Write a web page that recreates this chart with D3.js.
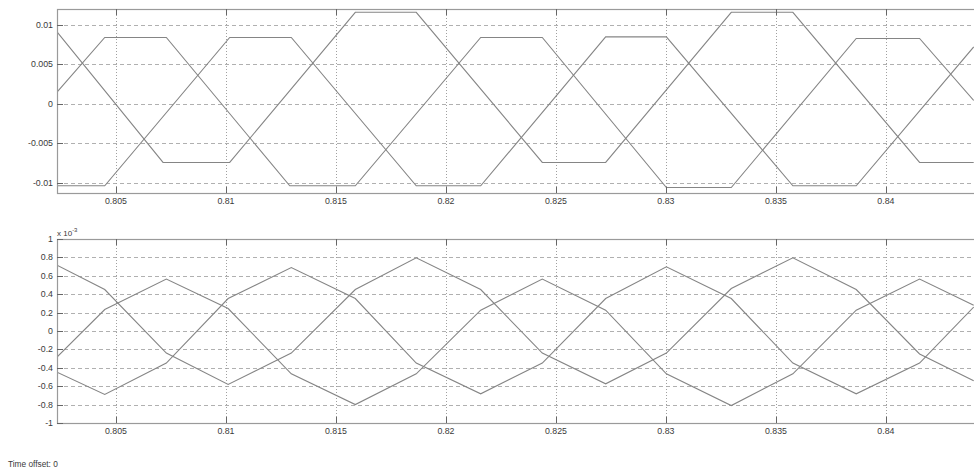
<!DOCTYPE html>
<html>
<head>
<meta charset="utf-8">
<script src="https://cdn.jsdelivr.net/npm/d3@7"></script>
<style>
  html, body { margin: 0; padding: 0; background: #fff; }
  svg { display: block; }
  text { font-family: "Liberation Sans", Arial, Helvetica, sans-serif; fill: #3a3a3a; }
</style>
</head>
<body>
<svg id="chart" width="974" height="472"></svg>
<script>
// ---------- DATA ----------
const xTicks = [0.805, 0.81, 0.815, 0.82, 0.825, 0.83, 0.835, 0.84];
const xTickLabels = ["0.805", "0.81", "0.815", "0.82", "0.825", "0.83", "0.835", "0.84"];

const topYTicks = [0.01, 0.005, 0, -0.005, -0.01];
const topYTickLabels = ["0.01", "0.005", "0", "-0.005", "-0.01"];

const botYTicks = [1, 0.8, 0.6, 0.4, 0.2, 0, -0.2, -0.4, -0.6, -0.8, -1];
const botYTickLabels = ["1", "0.8", "0.6", "0.4", "0.2", "0", "-0.2", "-0.4", "-0.6", "-0.8", "-1"];

// Upper plot: three trapezoidal waveforms (vertex times and values)
const topT1 = [0.80232, 0.80714, 0.81017, 0.81588, 0.81865, 0.82438, 0.82726, 0.83297, 0.83577, 0.84153, 0.84399];
const topV1 = [0.00911, -0.00743, -0.00743, 0.01158, 0.01158, -0.00743, -0.00743, 0.01158, 0.01158, -0.00743, -0.00743];
const topT2 = [0.80232, 0.80449, 0.80729, 0.81290, 0.81588, 0.82158, 0.82438, 0.83002, 0.83297, 0.83865, 0.84153, 0.84399];
const topV2 = [0.00148, 0.0084, 0.0084, -0.01039, -0.01039, 0.0084, 0.0084, -0.01061, -0.01061, 0.00827, 0.00827, 0.00042];
const topT3 = [0.80232, 0.80449, 0.81017, 0.81297, 0.81865, 0.82158, 0.82726, 0.83002, 0.83577, 0.83865, 0.84399];
const topV3 = [-0.01039, -0.01039, 0.0084, 0.0084, -0.01039, -0.01039, 0.00847, 0.00847, -0.01039, -0.01039, 0.0072];

// Lower plot: three piecewise-linear waveforms (units of 1e-3), shared vertex times
const botT = [0.80232, 0.80449, 0.80729, 0.81010, 0.81297, 0.81588, 0.81865, 0.82158, 0.82438, 0.82726, 0.83002, 0.83297, 0.83577, 0.83865, 0.84153, 0.84399];
const botA = [0.716, 0.451, -0.24, -0.581, -0.24, 0.451, 0.796, 0.451, -0.24, -0.574, -0.24, 0.462, 0.796, 0.451, -0.25, -0.54];
const botB = [-0.284, 0.233, 0.564, 0.244, -0.465, -0.80, -0.465, 0.226, 0.564, 0.226, -0.465, -0.81, -0.465, 0.226, 0.564, 0.28];
const botC = [-0.447, -0.69, -0.349, 0.353, 0.69, 0.353, -0.349, -0.683, -0.349, 0.353, 0.698, 0.353, -0.349, -0.683, -0.349, 0.26];

const timeOffsetText = "Time offset: 0";
const botExponent = "-3";

// ---------- DRAW ----------
const svg = d3.select("#chart");
const left = 57, right = 977;
const x = d3.scaleLinear().domain([0.80232, 0.84414]).range([left, right]);

const lineColor = "#858585";
const gridColor = "#b0b0b0";
const frameColor = "#9a9a9a";

function panel(opts) {
  const { top, bottom, yDomain, yTicks, yLabels, series, id } = opts;
  const y = d3.scaleLinear().domain(yDomain).range([bottom, top]);
  const g = svg.append("g");

  g.append("clipPath").attr("id", id).append("rect")
    .attr("x", left).attr("y", top).attr("width", right - left).attr("height", bottom - top);

  // horizontal grid (dashed)
  g.append("g").selectAll("line").data(yTicks).join("line")
    .attr("x1", left).attr("x2", right)
    .attr("y1", d => Math.round(y(d)) + 0.5).attr("y2", d => Math.round(y(d)) + 0.5)
    .attr("stroke", gridColor).attr("stroke-width", 1).attr("stroke-dasharray", "4,3");

  // vertical grid (dotted)
  g.append("g").selectAll("line").data(xTicks).join("line")
    .attr("x1", d => Math.round(x(d)) + 0.5).attr("x2", d => Math.round(x(d)) + 0.5)
    .attr("y1", top).attr("y2", bottom)
    .attr("stroke", "#a0a0a0").attr("stroke-width", 1).attr("stroke-dasharray", "1,2");

  // series
  const line = d3.line().x(d => x(d[0])).y(d => y(d[1]));
  const sg = g.append("g").attr("clip-path", `url(#${id})`);
  series.forEach(s => {
    const pts = s.t.map((t, i) => [t, s.v[i]]);
    sg.append("path").datum(pts).attr("d", line)
      .attr("fill", "none").attr("stroke", lineColor).attr("stroke-width", 1.1);
  });

  // frame
  g.append("rect").attr("x", left + 0.5).attr("y", top + 0.5)
    .attr("width", right - left + 10).attr("height", bottom - top)
    .attr("fill", "none").attr("stroke", frameColor).attr("stroke-width", 1.2);

  // tick marks (inside)
  const tl = 6;
  g.append("g").selectAll("line").data(yTicks).join("line")
    .attr("x1", left).attr("x2", left + tl)
    .attr("y1", d => Math.round(y(d)) + 0.5).attr("y2", d => Math.round(y(d)) + 0.5)
    .attr("stroke", "#666").attr("stroke-width", 1);
  g.append("g").selectAll("line").data(xTicks).join("line")
    .attr("x1", d => Math.round(x(d)) + 0.5).attr("x2", d => Math.round(x(d)) + 0.5)
    .attr("y1", top).attr("y2", top + tl)
    .attr("stroke", "#666").attr("stroke-width", 1);
  g.append("g").selectAll("line").data(xTicks).join("line")
    .attr("x1", d => Math.round(x(d)) + 0.5).attr("x2", d => Math.round(x(d)) + 0.5)
    .attr("y1", bottom - tl).attr("y2", bottom)
    .attr("stroke", "#666").attr("stroke-width", 1);

  // y labels
  g.append("g").selectAll("text").data(yTicks).join("text")
    .attr("x", 53).attr("y", d => y(d)).attr("dy", "0.35em")
    .attr("text-anchor", "end").attr("font-size", 8.8)
    .text((d, i) => yLabels[i]);

  // x labels
  g.append("g").selectAll("text").data(xTicks).join("text")
    .attr("x", d => x(d)).attr("y", bottom + 8).attr("dy", "0.35em")
    .attr("text-anchor", "middle").attr("font-size", 8.8)
    .text((d, i) => xTickLabels[i]);

  return y;
}

panel({
  id: "clipTop", top: 9, bottom: 193, yDomain: [-0.0113, 0.012],
  yTicks: topYTicks, yLabels: topYTickLabels,
  series: [{ t: topT1, v: topV1 }, { t: topT2, v: topV2 }, { t: topT3, v: topV3 }]
});

panel({
  id: "clipBot", top: 239, bottom: 423, yDomain: [-1, 1],
  yTicks: botYTicks, yLabels: botYTickLabels,
  series: [{ t: botT, v: botA }, { t: botT, v: botB }, { t: botT, v: botC }]
});

// exponent label
const ex = svg.append("text").attr("x", 57).attr("y", 236).attr("font-size", 8);
ex.append("tspan").text("x 10");
ex.append("tspan").attr("dy", -4).attr("font-size", 6).text(botExponent);

// time offset
svg.append("text").attr("x", 8).attr("y", 467).attr("font-size", 8.3).text(timeOffsetText);
</script>
</body>
</html>
